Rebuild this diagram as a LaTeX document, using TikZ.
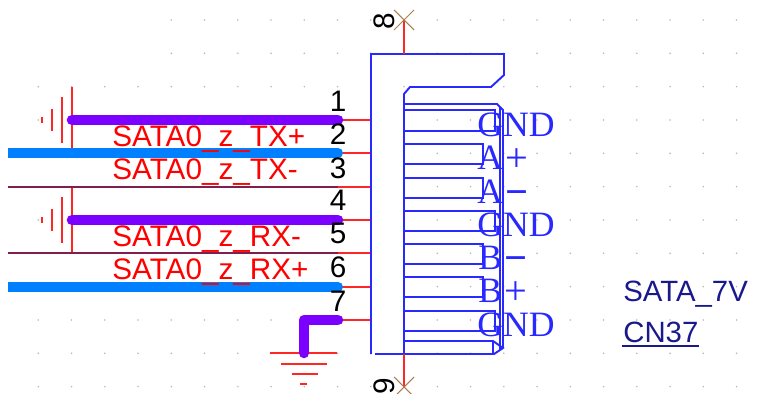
\documentclass[tikz,border=0pt]{standalone}
\usepackage{fontspec}
\setmainfont{Liberation Serif}
\setsansfont{Liberation Sans}
\usetikzlibrary{calc}
\definecolor{SymBlue}{RGB}{40,40,255}
\definecolor{NetPurple}{RGB}{122,0,255}
\definecolor{NetBlue}{RGB}{0,128,255}
\definecolor{NetDark}{RGB}{128,30,80}
\definecolor{PartNavy}{RGB}{25,25,140}
\definecolor{NcBrown}{RGB}{170,125,80}
\newcommand{\pinplus}{\hspace{1.5pt}\raisebox{-1pt}{\fontsize{23}{23}\selectfont+}}
\newcommand{\pinminus}{\hspace{1.5pt}\raisebox{-1pt}{\fontsize{23}{23}\selectfont\bfseries −}}
\tikzset{
  body/.style={SymBlue,line width=1.1pt},
  pinline/.style={red!85!white,line width=0.85pt},
  gndbar/.style={red!85!white,line width=0.85pt},
  thickpurple/.style={NetPurple,line width=6pt,line cap=round,line join=round},
  thickblue/.style={NetBlue,line width=6pt},
  thinnet/.style={NetDark,line width=0.85pt},
  netname/.style={red,anchor=base west,inner sep=0pt,font=\sffamily\fontsize{16.9}{18}\selectfont},
  pinnum/.style={black,anchor=base,inner sep=0pt,font=\sffamily\fontsize{16.9}{18}\selectfont},
  pinname/.style={SymBlue,anchor=base west,inner sep=0pt,font=\rmfamily\fontsize{20.3}{22}\selectfont},
  partname/.style={PartNavy,anchor=base west,inner sep=0pt,font=\sffamily\fontsize{16.7}{18}\selectfont},
}
\begin{document}
\begin{tikzpicture}[x=0.02cm,y=-0.02cm]
\useasboundingbox (0,0) rectangle (766,394);
% grid dots
\foreach \i in {0,...,21}{
  \foreach \j in {0,...,11}{
    \pgfmathtruncatemacro{\showdot}{(\i>3 || \j>1) ? 1 : 0}
    \ifnum\showdot=1
      \fill[gray!55] ({38.3+33.25*\i},{20+33.33*\j}) circle(0.9);
    \fi
  }
}
% pins on the left side
\foreach \n/\y in {1/120,2/153,3/187,4/220,5/253,6/287,7/320}{
  \coordinate (pin\n) at (338,\y);
  \coordinate (pad\n) at (371,\y);
  \draw[pinline] (pin\n) -- (pad\n);
}
% the two shield caps on the left
\foreach \c/\y in {capa/120,capb/220}{
  \coordinate (\c) at (72,\y);
  \draw[gndbar] ($(\c)+(0,-33)$) -- ($(\c)+(0,33)$);
  \draw[gndbar] ($(\c)+(-10,-23)$) -- ($(\c)+(-10,23)$);
  \draw[gndbar] ($(\c)+(-20,-11)$) -- ($(\c)+(-20,11)$);
  \draw[gndbar] ($(\c)+(-30,-3)$) -- ($(\c)+(-30,3)$);
}
% nets
\coordinate (leftb) at (8,153);
\coordinate (leftc) at (8,187);
\coordinate (lefte) at (8,253);
\coordinate (leftf) at (8,287);
\coordinate (gndtop) at (304,353);
\draw[thinnet] (leftc) -- (pin3);
\draw[thinnet] (lefte) -- (pin5);
\draw[thickpurple] (capa) -- (pin1);
\draw[thickpurple] (capb) -- (pin4);
\draw[thickblue] (leftb) -- (pin2);
\draw[thickblue] (leftf) -- (pin6);
\fill[NetBlue] (pin2) circle(5);
\fill[NetBlue] (pin6) circle(5);
\draw[gndbar] (270,353) -- (337,353);
\draw[gndbar] (281,364) -- (327,364);
\draw[gndbar] (292,374) -- (318,374);
\draw[gndbar] (300,384) -- (307,384);
\draw[thickpurple] (pin7) -- (304,320) -- (gndtop);
% connector outline
\draw[body] (371,354) -- (371,54) -- (504,54) -- (504,75) -- (491,87) -- (410,87) -- (404,94) -- (404,354);
\draw[body] (375,354) -- (494,354) -- (503,348) -- (493,341) -- (404,341);
\draw[body] (493,341) -- (493,354);
\draw[body] (404,104) -- (497,104) -- (503,110) -- (503,348);
\draw[body] (500,107) -- (500,350);
\foreach \a/\b/\r in {110/131/495,144/164/483,178/198/483,211/231/495,244/264/483,277/297/483,311/331/495}{
  \draw[body] (404,\a) -- (\r,\a) -- (\r,\b) -- (404,\b);
}
% the two pins with no connection
\foreach \c/\y/\e in {nca/20/54,ncb/387/354}{
  \coordinate (\c) at (404,\y);
  \draw[pinline] (\c) -- (404,\e);
  \draw[NcBrown,line width=0.6pt] ($(\c)+(-10,-10)$) -- ($(\c)+(10,10)$);
  \draw[NcBrown,line width=0.6pt] ($(\c)+(-10,10)$) -- ($(\c)+(10,-10)$);
}
\node[pinnum,rotate=90,anchor=center] (num8) at (384,21) {8};
\node[pinnum,rotate=90,anchor=center] (num9) at (384,386) {9};
% numbers
\foreach \n/\y in {1/112,2/145,3/179,4/211,5/244,6/278,7/312}{
  \node[pinnum] (num\n) at (338,\y) {\n};
}
% net names
\node[netname] (txp) at (112,147) {SATA0\_z\_TX+};
\node[netname] (txn) at (112,180) {SATA0\_z\_TX-};
\node[netname] (rxn) at (112,247) {SATA0\_z\_RX-};
\node[netname] (rxp) at (112,280) {SATA0\_z\_RX+};
% pin names
\node[pinname] (gnda) at (477,136.5) {GND};
\node[pinname] (ap) at (477,170) {A\pinplus};
\node[pinname] (an) at (477,203.5) {A\pinminus};
\node[pinname] (gndb) at (477,236.5) {GND};
\node[pinname] (bn) at (478,270) {B\pinminus};
\node[pinname] (bp) at (478,303) {B\pinplus};
\node[pinname] (gndc) at (477,336.5) {GND};
% part
\node[partname] (parttype) at (623,302) {SATA\_7V};
\node[partname] (partref) at (623,342) {CN37};
\draw[PartNavy,line width=0.9pt] (622,346) -- (699,346);
\end{tikzpicture}
\end{document}
